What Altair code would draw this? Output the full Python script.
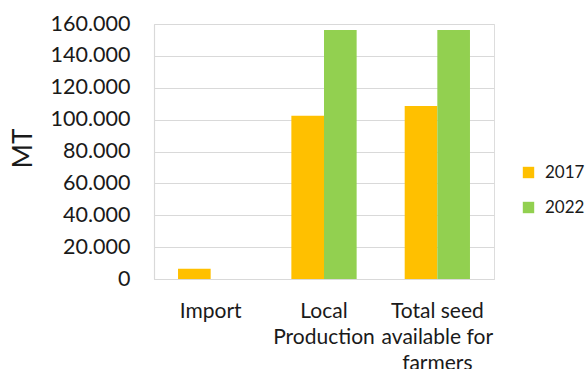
import altair as alt
import pandas as pd

categories = ["Import", "Local Production", "Total seed available for farmers"]
years = ["2017", "2022"]
values_2017 = [6500, 102500, 108500]
values_2022 = [0, 156200, 156200]
colors = ["#FFC000", "#92D050"]

rows = []
for c, v1, v2 in zip(categories, values_2017, values_2022):
    rows.append({"category": c, "year": years[0], "value": v1})
    rows.append({"category": c, "year": years[1], "value": v2})
df = pd.DataFrame(rows)

FONT = "Lato"

label_expr = ("datum.value == 'Local Production' ? ['Local','Production'] : "
              "datum.value == 'Total seed available for farmers' ? ['Total seed','available for','farmers'] : datum.value")

chart = alt.Chart(df).mark_bar().encode(
    x=alt.X("category:N", sort=categories,
            scale=alt.Scale(paddingInner=0.424, paddingOuter=0.212),
            axis=alt.Axis(title=None, labelAngle=0, labelExpr=label_expr,
                          labelFont=FONT, labelFontSize=21, labelColor="#1a1a1a",
                          labelLineHeight=26, labelPadding=21, labelBaseline="top",
                          ticks=False, domainColor="#d9d9d9", domainWidth=1.2)),
    xOffset=alt.XOffset("year:N", sort=years, scale=alt.Scale(paddingInner=0, paddingOuter=0)),
    y=alt.Y("value:Q", scale=alt.Scale(domain=[0, 160000], nice=False),
            axis=alt.Axis(title="MT", values=list(range(0, 160001, 20000)),
                          labelExpr="datum.value == 0 ? '0' : replace(format(datum.value, ','), ',', '.')",
                          labelFont=FONT, labelFontSize=21.5, labelColor="#1a1a1a",
                          labelPadding=24, ticks=False,
                          domainColor="#d9d9d9", domainWidth=1.2,
                          gridColor="#d9d9d9", gridWidth=1.2,
                          titleFont=FONT, titleFontSize=26, titleFontWeight="normal",
                          titleColor="#1a1a1a", titleAngle=270, titleX=-131, titleY=124,
                          titleAlign="center", titleBaseline="middle")),
    color=alt.Color("year:N", sort=years,
                    scale=alt.Scale(domain=years, range=colors),
                    legend=alt.Legend(title=None, orient="none", legendX=366, legendY=140,
                                      symbolType="square", symbolSize=130, symbolStrokeWidth=0,
                                      labelFont=FONT, labelFontSize=17, labelColor="#1a1a1a",
                                      rowPadding=17, labelOffset=8)),
).properties(
    width=340, height=255,
    autosize=alt.AutoSizeParams(type="none"),
    padding={"left": 154, "top": 24, "right": 92, "bottom": 90},
).configure_view(stroke=None).configure(background="white")

chart.save("out.html", embed_options={"renderer": "svg", "actions": False})
